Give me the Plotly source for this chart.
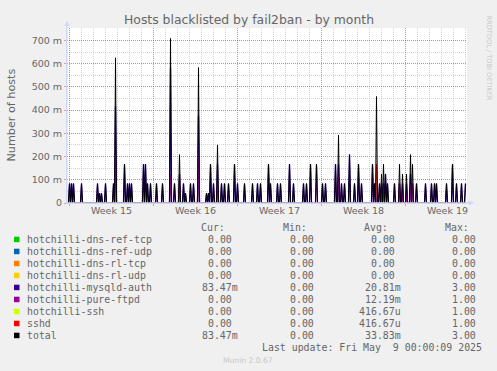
import pandas as pd
import numpy as np
import plotly.graph_objects as go

# ---------------- data (2-hour buckets starting 2025-04-05 20:00) ----------------
START = pd.Timestamp("2025-04-05 20:00")
N_SLOTS = 399  # last bucket = 2025-05-09 00:00

mysql_slots = [2, 4, 6, 14, 30, 32, 34, 38, 46, 48,
               57, 60, 62, 64, 76, 78, 80, 83, 89, 95,
               103, 107, 112, 116, 118, 123, 126, 131, 139, 141,
               143, 146, 150, 154, 157, 161, 167, 170, 177, 185,
               190, 193, 201, 203, 210, 213, 222, 226, 236, 239,
               243, 255, 258, 268, 271, 274, 277, 282, 287, 291,
               294, 305, 307, 309, 312, 314, 316, 318, 320, 327,
               332, 335, 339, 343, 345, 349, 358, 364, 367, 369,
               379, 385, 389, 394, 398]
mysql_vals_m = [83.3, 83.3, 83.3, 83.3, 83.3, 41.7, 41.7, 83.3, 83.3, 416.7,
                166.7, 83.3, 83.3, 83.3, 166.7, 166.7, 83.3, 83.3, 83.3, 83.3,
                583.3, 83.3, 125.0, 83.3, 41.7, 83.3, 83.3, 375.0, 41.7, 41.7,
                166.7, 83.3, 166.7, 83.3, 83.3, 83.3, 166.7, 83.3, 83.3, 83.3,
                83.3, 83.3, 166.7, 83.3, 83.3, 83.3, 166.7, 83.3, 83.3, 83.3,
                166.7, 83.3, 83.3, 166.7, 166.7, 83.3, 83.3, 208.3, 83.3, 166.7,
                83.3, 166.7, 83.3, 41.7, 83.3, 83.3, 83.3, 125.0, 83.3, 83.3,
                83.3, 83.3, 83.3, 125.0, 83.3, 83.3, 83.3, 83.3, 83.3, 83.3,
                83.3, 166.7, 83.3, 83.3, 83.3]

ftp_slots = [48, 103, 112, 131, 150, 249, 271, 309, 314, 316, 332, 335, 339, 343, 345]
ftp_vals_m = [208.3, 125.0, 83.3, 208.3, 83.3, 166.7, 125.0, 83.3, 41.7, 83.3,
              83.3, 41.7, 41.7, 83.3, 83.3]

ssh_slots = [309]
ssh_vals_m = [166.7]

sshd_slots = [309]
sshd_vals_m = [166.7]

legend_names = ["hotchilli-dns-ref-tcp", "hotchilli-dns-ref-udp", "hotchilli-dns-rl-tcp",
                "hotchilli-dns-rl-udp", "hotchilli-mysqld-auth", "hotchilli-pure-ftpd",
                "hotchilli-ssh", "sshd", "total"]
legend_colors = ["#00CC00", "#0066B3", "#FF8000", "#FFCC00", "#330099",
                 "#990099", "#CCFF00", "#FF0000", "#000000"]
cur_txt = ["0.00", "0.00", "0.00", "0.00", "83.47m", "0.00", "0.00", "0.00", "83.47m"]
min_txt = ["0.00"] * 9
avg_txt = ["0.00", "0.00", "0.00", "0.00", "20.81m", "12.19m", "416.67u", "416.67u", "33.83m"]
max_txt = ["0.00", "0.00", "0.00", "0.00", "3.00", "1.00", "1.00", "1.00", "3.00"]

week_starts = ["2025-04-06", "2025-04-13", "2025-04-20", "2025-04-27", "2025-05-04"]
week_mids = ["2025-04-09 12:00", "2025-04-16 12:00", "2025-04-23 12:00",
             "2025-04-30 12:00", "2025-05-07 12:00"]
week_labels = ["Week 15", "Week 16", "Week 17", "Week 18", "Week 19"]

y_tickvals = [0, 0.1, 0.2, 0.3, 0.4, 0.5, 0.6, 0.7]
y_ticktext = ["0", "100 m", "200 m", "300 m", "400 m", "500 m", "600 m", "700 m"]

# ---------------- build series ----------------
times = START + pd.to_timedelta(np.arange(N_SLOTS) * 2, unit="h")


def dense(slots, vals_m):
    arr = np.zeros(N_SLOTS)
    for s, v in zip(slots, vals_m):
        arr[s] += v / 1000.0
    return arr


zero = np.zeros(N_SLOTS)
mysql = dense(mysql_slots, mysql_vals_m)
ftp = dense(ftp_slots, ftp_vals_m)
ssh = dense(ssh_slots, ssh_vals_m)
sshd = dense(sshd_slots, sshd_vals_m)
total = mysql + ftp + ssh + sshd

series = [zero, zero, zero, zero, mysql, ftp, ssh, sshd, total]
widths = [1, 1, 1, 1, 1.3, 1.3, 1, 1, 1.0]

fig = go.Figure()
for name, col, ys, w in zip(legend_names, legend_colors, series, widths):
    fig.add_trace(go.Scatter(x=times, y=ys, mode="lines", name=name,
                             line=dict(color=col, width=w), showlegend=False,
                             hoverinfo="skip"))
# invisible trace to host the label axis
fig.add_trace(go.Scatter(x=[], y=[], xaxis="x2", showlegend=False))

# ---------------- layout ----------------
L, T, W, H = 67, 28, 400, 175


def px(x):
    return (x - L) / W


def py(y):
    return (T + H - y) / H


XR = ["2025-04-05 19:00", "2025-05-09 03:00"]
RED = "rgba(192,32,32,0.40)"
GRAY = "rgba(128,128,128,0.35)"
AX = "#CFD6F8"
FONT = "DejaVu Sans"
MONO = "DejaVu Sans Mono"
TXT = "#666666"

fig.update_layout(
    width=497, height=371,
    margin=dict(l=L, r=497 - L - W, t=T, b=371 - T - H, pad=0),
    paper_bgcolor="#F0F0F0", plot_bgcolor="#FFFFFF",
    xaxis=dict(type="date", range=XR, tickvals=week_starts, showticklabels=False,
               showgrid=True, gridcolor=RED, griddash="1px,1px", gridwidth=1,
               ticks="outside", ticklen=2, tickcolor=RED,
               showline=True, linecolor=AX, linewidth=1, zeroline=False,
               minor=dict(dtick=86400000, tick0="2025-04-06", showgrid=True,
                          gridcolor=GRAY, griddash="1px,1px", ticks=""),
               fixedrange=True),
    xaxis2=dict(type="date", range=XR, overlaying="x", side="bottom", anchor="y",
                tickvals=week_mids, ticktext=week_labels, showgrid=False, ticks="",
                showline=False, zeroline=False,
                tickfont=dict(family=FONT, size=9.5, color=TXT), fixedrange=True),
    yaxis=dict(range=[0, 0.7533], tickvals=y_tickvals, ticktext=y_ticktext,
               showgrid=True, gridcolor=RED, griddash="1px,1px", gridwidth=1,
               ticks="outside", ticklen=2, tickcolor=RED,
               showline=True, linecolor=AX, linewidth=1, zeroline=False,
               minor=dict(dtick=0.05, tick0=0, showgrid=True, gridcolor=GRAY,
                          griddash="1px,1px", ticks=""),
               tickfont=dict(family=FONT, size=9.5, color=TXT), fixedrange=True),
    font=dict(family=FONT, color=TXT),
)

ann = []
shapes = []

# title
ann.append(dict(text="Hosts blacklisted by fail2ban - by month", x=px(248.5), y=py(19.5),
                xanchor="center", yanchor="middle",
                font=dict(family=FONT, size=12.4, color=TXT)))
# y-axis title
ann.append(dict(text="Number of hosts", x=px(10.5), y=py(115), textangle=-90,
                xanchor="center", yanchor="middle",
                font=dict(family=FONT, size=11.2, color=TXT)))
# rrdtool credit
ann.append(dict(text="RRDTOOL / TOBI OETIKER", x=px(488.5), y=py(58), textangle=90,
                xanchor="center", yanchor="middle",
                font=dict(family=FONT, size=6.6, color="#C8C8C8")))
# munin version
ann.append(dict(text="Munin 2.0.67", x=px(248), y=py(360), xanchor="center", yanchor="middle",
                font=dict(family=FONT, size=7.6, color="#C8C8C8")))

# legend headers
for htxt, hx in zip(["Cur:", "Min:", "Avg:", "Max:"], [226, 308, 389, 470]):
    ann.append(dict(text=htxt, x=px(hx), y=py(227.5), xanchor="right", yanchor="middle",
                    font=dict(family=MONO, size=9.9, color=TXT)))

NB = "\u00a0"
col_edges = [239, 321, 402, 483]
for i, (name, col) in enumerate(zip(legend_names, legend_colors)):
    yc = 239.7 + 12 * i
    shapes.append(dict(type="rect", xref="paper", yref="paper",
                       x0=px(14), x1=px(19.5), y0=py(yc + 2.5), y1=py(yc - 3.0),
                       fillcolor=col, line=dict(width=0)))
    ann.append(dict(text=name, x=px(26), y=py(yc), xanchor="left", yanchor="middle",
                    font=dict(family=MONO, size=9.9, color=TXT)))
    for vals, edge in zip([cur_txt, min_txt, avg_txt, max_txt], col_edges):
        v = vals[i]
        if not v[-1].isalpha():
            v = v + NB
        ann.append(dict(text=v, x=px(edge), y=py(yc), xanchor="right", yanchor="middle",
                        font=dict(family=MONO, size=9.9, color=TXT)))

ann.append(dict(text="Last update: Fri May" + NB + NB + "9 00:00:09 2025", x=px(482.5), y=py(347.3),
                xanchor="right", yanchor="middle",
                font=dict(family=MONO, size=9.9, color=TXT)))

for a in ann:
    a.update(xref="paper", yref="paper", showarrow=False, borderpad=0)

# axis line over the zero-valued traces, extensions and arrows
shapes.append(dict(type="line", xref="paper", yref="paper", x0=px(67), x1=px(471),
                   y0=py(203), y1=py(203), line=dict(color=AX, width=1.6)))
shapes.append(dict(type="line", xref="paper", yref="paper", x0=px(67), x1=px(67),
                   y0=py(203), y1=py(24), line=dict(color=AX, width=1)))
shapes.append(dict(type="path", xref="paper", yref="paper",
                   path=f"M {px(64.5)},{py(26)} L {px(69.5)},{py(26)} L {px(67)},{py(21)} Z",
                   fillcolor=AX, line=dict(width=0)))
shapes.append(dict(type="path", xref="paper", yref="paper",
                   path=f"M {px(469)},{py(200.5)} L {px(469)},{py(205.5)} L {px(474)},{py(203)} Z",
                   fillcolor=AX, line=dict(width=0)))

fig.update_layout(annotations=ann, shapes=shapes)

fig.write_html("out.html", config={"displayModeBar": False},
               post_script="document.body.style.margin='0';document.body.style.padding='0';")
